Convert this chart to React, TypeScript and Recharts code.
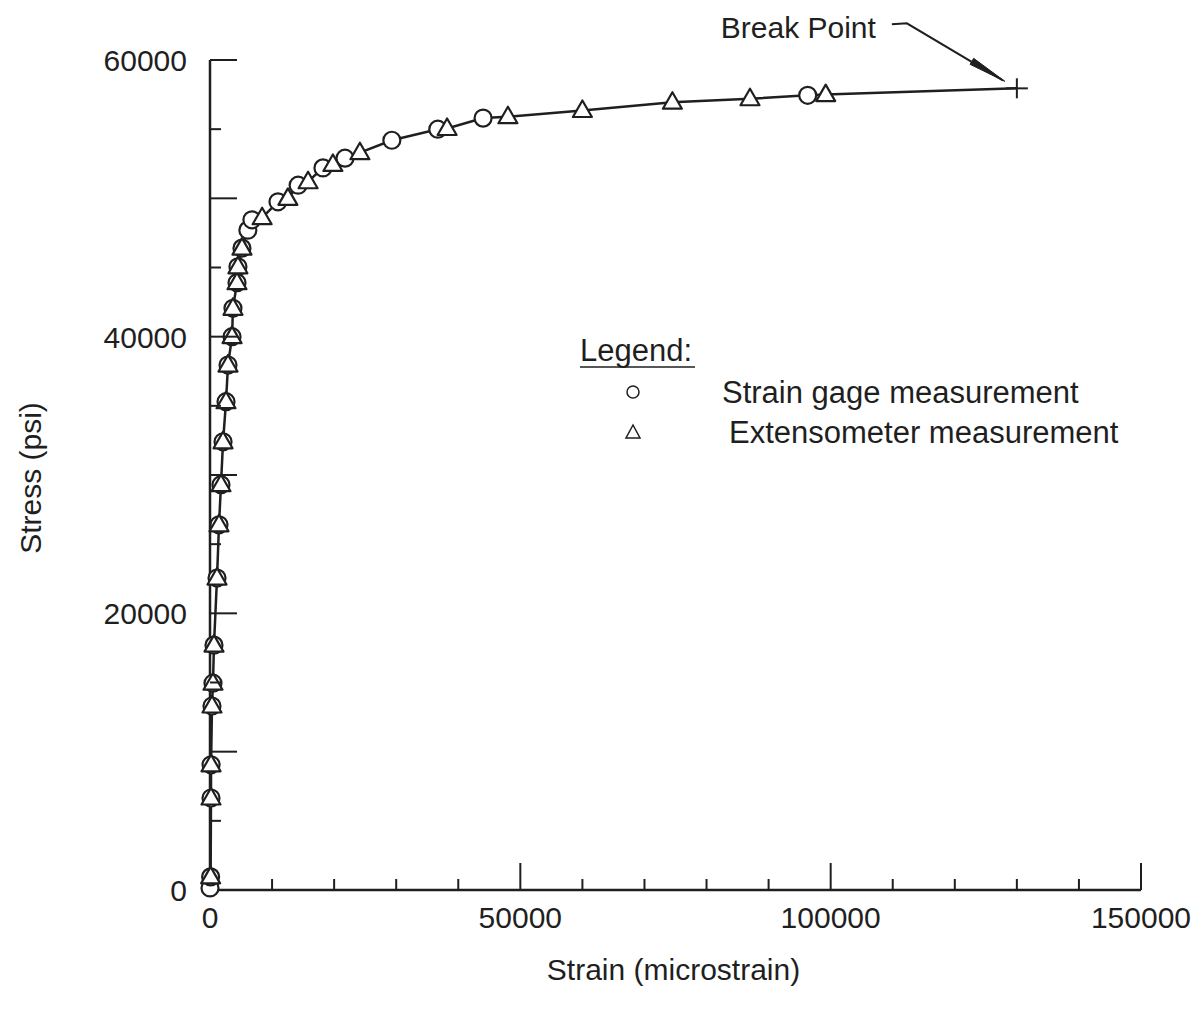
import React from 'react';
import { ScatterChart, Scatter, XAxis, YAxis, Legend, Label } from 'recharts';

const INK = '#1f1f1f';
const FONT = '"Liberation Sans", Arial, Helvetica, sans-serif';

// Strain gage measurements (circles): strain in microstrain, stress in psi
const gagePoints = [
  { strain: 0, stress: 150 },
  { strain: 100, stress: 950 },
  { strain: 160, stress: 6650 },
  { strain: 170, stress: 9050 },
  { strain: 320, stress: 13300 },
  { strain: 480, stress: 14950 },
  { strain: 640, stress: 17700 },
  { strain: 1130, stress: 22550 },
  { strain: 1450, stress: 26400 },
  { strain: 1770, stress: 29300 },
  { strain: 2100, stress: 32400 },
  { strain: 2580, stress: 35300 },
  { strain: 2900, stress: 37950 },
  { strain: 3550, stress: 40000 },
  { strain: 3700, stress: 42050 },
  { strain: 4350, stress: 43900 },
  { strain: 4500, stress: 45050 },
  { strain: 5150, stress: 46400 },
  { strain: 6100, stress: 47700 },
  { strain: 6750, stress: 48450 },
  { strain: 10950, stress: 49750 },
  { strain: 14200, stress: 50950 },
  { strain: 18200, stress: 52200 },
  { strain: 21750, stress: 52900 },
  { strain: 29300, stress: 54200 },
  { strain: 36700, stress: 55000 },
  { strain: 44000, stress: 55800 },
  { strain: 96300, stress: 57450 },
];

// Extensometer measurements (triangles)
const extensometerPoints = [
  { strain: 100, stress: 950 },
  { strain: 160, stress: 6650 },
  { strain: 170, stress: 9050 },
  { strain: 320, stress: 13300 },
  { strain: 480, stress: 14950 },
  { strain: 640, stress: 17700 },
  { strain: 1130, stress: 22550 },
  { strain: 1450, stress: 26400 },
  { strain: 1770, stress: 29300 },
  { strain: 2100, stress: 32400 },
  { strain: 2580, stress: 35300 },
  { strain: 2900, stress: 37950 },
  { strain: 3550, stress: 40000 },
  { strain: 3700, stress: 42050 },
  { strain: 4350, stress: 43900 },
  { strain: 4500, stress: 45050 },
  { strain: 5150, stress: 46400 },
  { strain: 8400, stress: 48600 },
  { strain: 12550, stress: 50000 },
  { strain: 15800, stress: 51200 },
  { strain: 19800, stress: 52450 },
  { strain: 24150, stress: 53300 },
  { strain: 38200, stress: 55050 },
  { strain: 48000, stress: 55900 },
  { strain: 60000, stress: 56350 },
  { strain: 74500, stress: 56950 },
  { strain: 87000, stress: 57200 },
  { strain: 99200, stress: 57500 },
];

const breakPoint = [{ strain: 130000, stress: 57950 }];

const strainTicks = [0, 10000, 20000, 30000, 40000, 50000, 60000, 70000, 80000, 90000, 100000, 110000, 120000, 130000, 140000, 150000];
const strainLabels = [0, 50000, 100000, 150000];
const stressTicks = [0, 5000, 10000, 15000, 20000, 25000, 30000, 35000, 40000, 45000, 50000, 55000, 60000];
const stressLabels = [0, 20000, 40000, 60000];

const curvePoints = [...gagePoints, ...extensometerPoints]
  .sort((a, b) => a.strain - b.strain || a.stress - b.stress)
  .concat(breakPoint);

const XTick = (props: any) => {
  const { x, y, payload } = props;
  const v = payload.value;
  const major = v % 50000 === 0;
  return (
    <g>
      {v !== 0 && (
        <line x1={x} y1={y} x2={x} y2={y - (major ? 27 : 11)} stroke={INK} strokeWidth={2} />
      )}
      {strainLabels.includes(v) && (
        <text x={x} y={y + 38} textAnchor="middle" fontSize={30} fill={INK} fontFamily={FONT}>
          {v}
        </text>
      )}
    </g>
  );
};

const YTick = (props: any) => {
  const { x, y, payload } = props;
  const v = payload.value;
  const major = v % 10000 === 0;
  return (
    <g>
      {v !== 0 && (
        <line x1={x} y1={y} x2={x + (major ? 27 : 11)} y2={y} stroke={INK} strokeWidth={2} />
      )}
      {stressLabels.includes(v) && (
        <text x={x - 23} y={y + 11} textAnchor="end" fontSize={30} fill={INK} fontFamily={FONT}>
          {v}
        </text>
      )}
    </g>
  );
};

const CircleMarker = (props: any) => {
  const { cx, cy } = props;
  return <circle cx={cx} cy={cy} r={8.5} fill="#fff" stroke={INK} strokeWidth={2.2} />;
};

const TriangleMarker = (props: any) => {
  const { cx, cy } = props;
  const pts = `${cx},${cy - 10} ${cx - 9.5},${cy + 6.5} ${cx + 9.5},${cy + 6.5}`;
  return <polygon points={pts} fill="#fff" stroke={INK} strokeWidth={2.2} strokeLinejoin="round" />;
};

const NoMarker = () => <g />;

const BreakMarker = (props: any) => {
  const { cx, cy } = props;
  const tip = [cx - 12, cy - 7];
  const b1 = [cx - 46.8, cy - 24];
  const b2 = [cx - 43.2, cy - 30];
  return (
    <g>
      <line x1={cx - 11} y1={cy} x2={cx + 11} y2={cy} stroke={INK} strokeWidth={2} />
      <line x1={cx} y1={cy - 10} x2={cx} y2={cy + 10} stroke={INK} strokeWidth={2} />
      <path
        d={`M ${cx - 125} ${cy - 64} L ${cx - 110} ${cy - 65} L ${cx - 14} ${cy - 8}`}
        fill="none"
        stroke={INK}
        strokeWidth={2}
      />
      <polygon points={`${tip[0]},${tip[1]} ${b1[0]},${b1[1]} ${b2[0]},${b2[1]}`} fill={INK} stroke={INK} strokeWidth={1} />
      <text x={cx - 141} y={cy - 50} textAnchor="end" fontSize={30} fill={INK} fontFamily={FONT}>
        Break Point
      </text>
    </g>
  );
};

const LegendBox = () => (
  <svg width={600} height={130} style={{ display: 'block' }}>
    <text x={20} y={31} fontSize={31} fill={INK} fontFamily={FONT}>Legend:</text>
    <line x1={20} y1={37} x2={135} y2={37} stroke={INK} strokeWidth={1.5} />
    <circle cx={73} cy={62} r={6} fill="none" stroke={INK} strokeWidth={1.5} />
    <text x={162} y={73} fontSize={31} fill={INK} fontFamily={FONT}>Strain gage measurement</text>
    <polygon points="73,95 66,108 80,108" fill="none" stroke={INK} strokeWidth={1.5} />
    <text x={169} y={113} fontSize={31} fill={INK} fontFamily={FONT}>Extensometer measurement</text>
  </svg>
);

export default function App() {
  return (
    <div style={{ width: 1186, height: 1012, background: '#fff' }}>
      <ScatterChart width={1186} height={1012} margin={{ top: 52, right: 53, bottom: 90, left: 142 }}>
        <XAxis
          type="number"
          dataKey="strain"
          domain={[0, 150000]}
          ticks={strainTicks}
          interval={0}
          tick={(p: any) => <XTick {...p} />}
          tickLine={false}
          tickSize={0}
          tickMargin={0}
          height={40}
          axisLine={{ stroke: INK, strokeWidth: 2.5 }}
        >
          <Label
            content={(p: any) => {
              const vb = p.viewBox || {};
              return (
                <text x={vb.x + vb.width / 2 - 2} y={vb.y + 90} textAnchor="middle" fontSize={30} fill={INK} fontFamily={FONT}>
                  Strain (microstrain)
                </text>
              );
            }}
          />
        </XAxis>
        <YAxis
          type="number"
          dataKey="stress"
          domain={[0, 60000]}
          ticks={stressTicks}
          interval={0}
          tick={(p: any) => <YTick {...p} />}
          tickLine={false}
          tickSize={0}
          tickMargin={0}
          width={60}
          axisLine={{ stroke: INK, strokeWidth: 2.5 }}
        >
          <Label
            content={(p: any) => {
              const vb = p.viewBox || {};
              const cx = vb.x - 120;
              const cy = vb.y + vb.height / 2 + 3;
              return (
                <text
                  x={cx}
                  y={cy}
                  dy="0.35em"
                  textAnchor="middle"
                  fontSize={30}
                  fill={INK}
                  fontFamily={FONT}
                  transform={`rotate(-90, ${cx}, ${cy})`}
                >
                  Stress (psi)
                </text>
              );
            }}
          />
        </YAxis>
        <Legend
          layout="vertical"
          align="center"
          verticalAlign="middle"
          content={() => <LegendBox />}
          wrapperStyle={{ position: 'absolute', left: 552, top: 322, width: 600, height: 130 }}
        />
        <Scatter
          name="curve"
          data={curvePoints}
          line={{ stroke: INK, strokeWidth: 2.5 }}
          lineType="joint"
          shape={NoMarker}
          isAnimationActive={false}
          legendType="none"
        />
        <Scatter name="Strain gage measurement" data={gagePoints} shape={CircleMarker} isAnimationActive={false} />
        <Scatter name="Extensometer measurement" data={extensometerPoints} shape={TriangleMarker} isAnimationActive={false} />
        <Scatter name="Break Point" data={breakPoint} shape={BreakMarker} isAnimationActive={false} legendType="none" />
      </ScatterChart>
    </div>
  );
}
